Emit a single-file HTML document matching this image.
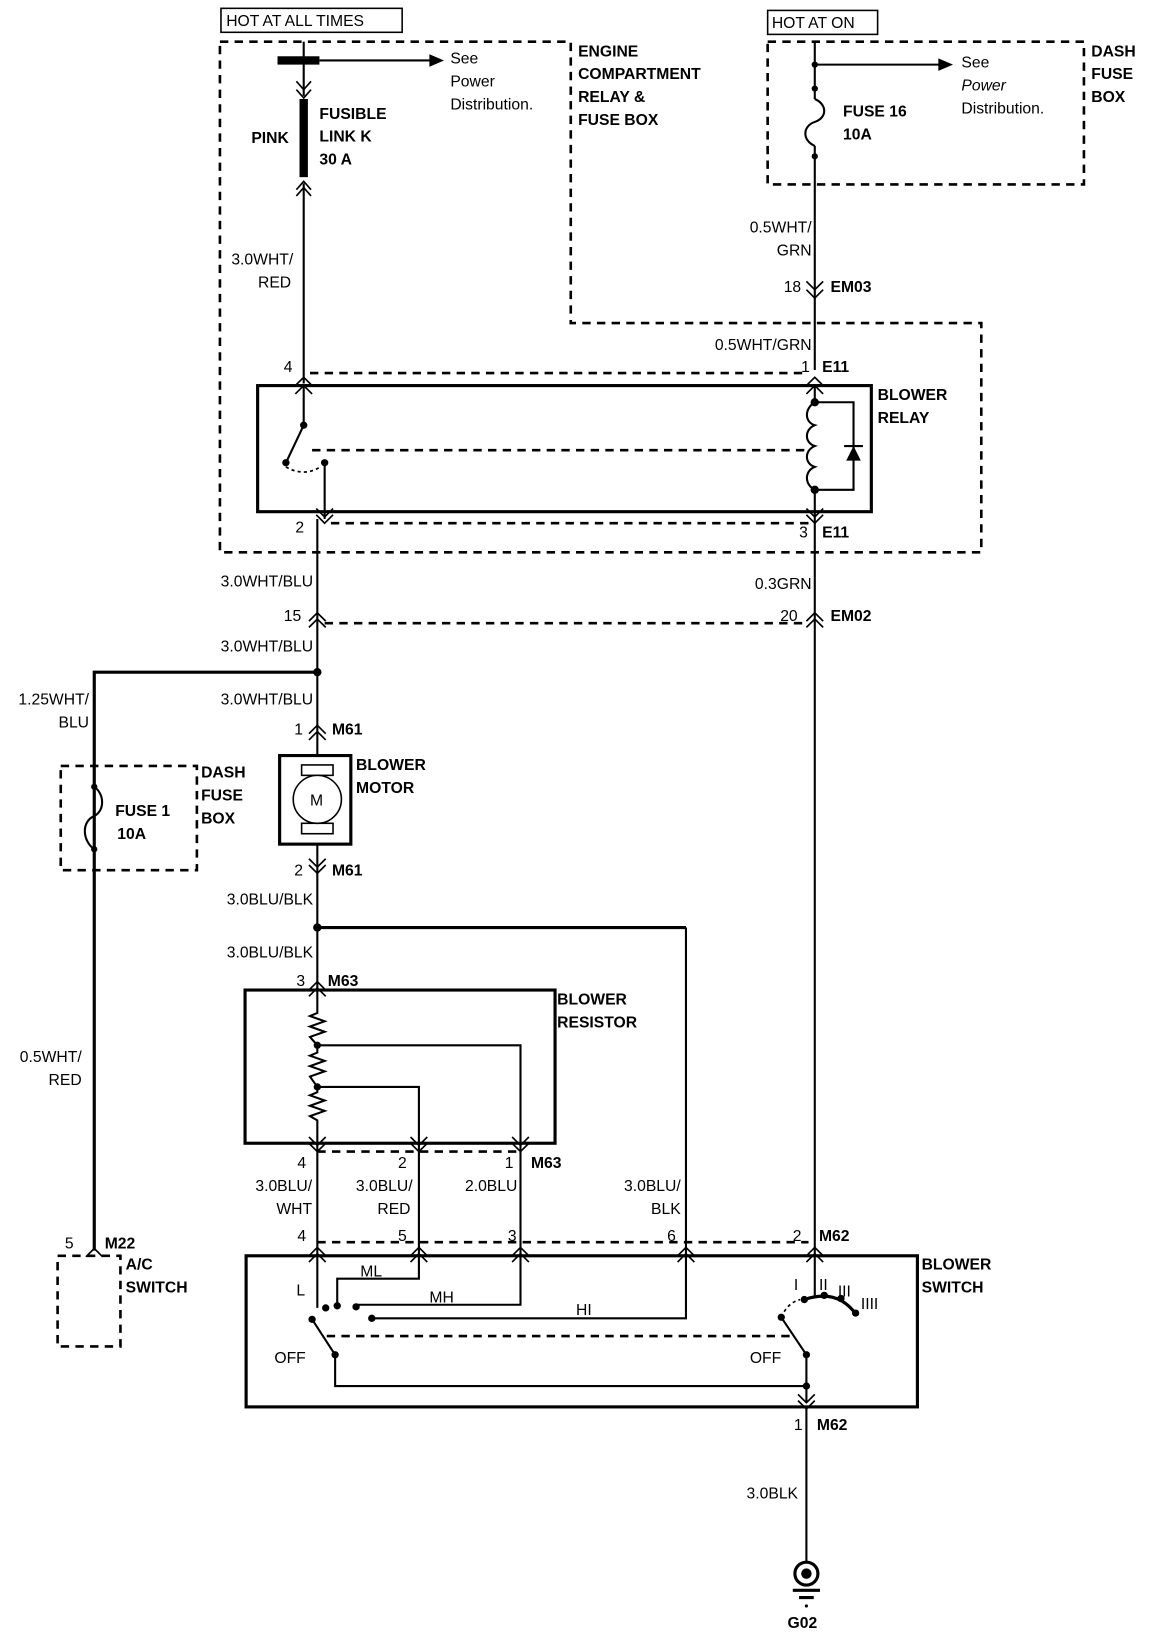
<!DOCTYPE html>
<html><head><meta charset="utf-8"><style>
html,body{margin:0;padding:0;background:#fff}
svg{display:block}
text{font-family:"Liberation Sans",Arial,sans-serif;font-size:15px;fill:#000}
.b{font-weight:bold}
.w{stroke:#000;stroke-width:2;fill:none}
.t{stroke:#000;stroke-width:3;fill:none}
.d{stroke:#000;stroke-width:2.5;fill:none;stroke-dasharray:8 6}
.c{stroke:#000;stroke-width:1.6;fill:none}
</style></head><body>
<svg width="1152" height="1632" viewBox="0 0 1100 1566" preserveAspectRatio="none" xmlns="http://www.w3.org/2000/svg">
<rect x="211" y="8" width="173" height="23" fill="none" stroke="#000" stroke-width="1.5"/>
<text x="216" y="25">HOT AT ALL TIMES</text>
<path class="d" d="M210 40 H545 V310 H937 V530 H210 Z"/>
<text class="b" x="552" y="54">ENGINE</text>
<text class="b" x="552" y="76">COMPARTMENT</text>
<text class="b" x="552" y="98">RELAY &amp;</text>
<text class="b" x="552" y="120">FUSE BOX</text>
<path class="w" d="M290 40 V92"/>
<rect x="265" y="54" width="40" height="8" fill="#000"/>
<path class="w" d="M305 58 H412"/>
<path d="M410 52 L424 58 L410 64 Z" fill="#000"/>
<text x="430" y="61">See</text>
<text x="430" y="83">Power</text>
<text x="430" y="105">Distribution.</text>
<path class="c" d="M283 78 L290 86 L297 78 M283 86 L290 94 L297 86"/>
<rect x="286" y="95" width="8" height="75" fill="#000"/>
<text class="b" x="240" y="137">PINK</text>
<text class="b" x="305" y="114">FUSIBLE</text>
<text class="b" x="305" y="136">LINK K</text>
<text class="b" x="305" y="158">30 A</text>
<path class="c" d="M283 182 L290 174 L297 182 M283 188 L290 180 L297 188"/>
<path class="w" d="M290 176 V368"/>
<text text-anchor="end" x="280" y="254">3.0WHT/</text>
<text text-anchor="end" x="278" y="276">RED</text>
<rect x="733" y="10" width="105" height="23" fill="none" stroke="#000" stroke-width="1.5"/>
<text x="737" y="27">HOT AT ON</text>
<path class="d" d="M733 40 H1035 V177 H733 Z"/>
<text class="b" x="1042" y="54">DASH</text>
<text class="b" x="1042" y="76">FUSE</text>
<text class="b" x="1042" y="98">BOX</text>
<path class="w" d="M778 40 V95 M778 140 V355"/>
<circle cx="778" cy="62" r="3" fill="#000"/>
<circle cx="778" cy="85" r="3" fill="#000"/>
<circle cx="778" cy="150" r="3" fill="#000"/>
<path class="w" d="M778 95 C790 100 790 113 778 117 C766 121 766 135 778 140"/>
<path class="w" d="M778 62 H898"/>
<path d="M896 56 L910 62 L896 68 Z" fill="#000"/>
<text x="918" y="65">See</text>
<text x="918" y="87" font-style="italic">Power</text>
<text x="918" y="109">Distribution.</text>
<text class="b" x="805" y="112">FUSE 16</text>
<text class="b" x="805" y="134">10A</text>
<text text-anchor="end" x="775" y="223">0.5WHT/</text>
<text text-anchor="end" x="775" y="245">GRN</text>
<text text-anchor="end" x="765" y="280">18</text>
<path class="c" d="M770 270 L778 278 L786 270 M770 278 L778 286 L786 278"/>
<text class="b" x="793" y="280">EM03</text>
<text text-anchor="end" x="775" y="336">0.5WHT/GRN</text>
<text x="765" y="357">1</text>
<text class="b" x="785" y="357">E11</text>
<text x="271" y="357">4</text>
<path class="d" d="M296 358 H772" stroke-width="1.8"/>
<rect x="246" y="370" width="586" height="121" fill="none" stroke="#000" stroke-width="3"/>
<path class="c" d="M282 370 L290 362 L298 370 M282 378 L290 370 L298 378"/>
<path class="c" d="M770 370 L778 362 L786 370 M770 378 L778 370 L786 378"/>
<path class="w" d="M290 370 V408 L274 442"/>
<circle cx="290" cy="408" r="3.5" fill="#000"/>
<circle cx="273" cy="444" r="3.5" fill="#000"/>
<circle cx="310" cy="444" r="3.5" fill="#000"/>
<path class="c" d="M273 448 Q290 458 306 448" stroke-dasharray="3 3"/>
<path class="d" d="M298 432 H770" stroke-width="1.8"/>
<path class="w" d="M310 444 V498"/>
<path class="w" d="M778 370 V386 M778 470 V498"/>
<circle cx="778" cy="386" r="4" fill="#000"/>
<circle cx="778" cy="470" r="4" fill="#000"/>
<path class="w" d="M778 386 C768 392 768 405 778 408 C768 412 768 425 778 428 C768 432 768 445 778 448 C768 452 768 465 778 470"/>
<path class="w" d="M778 386 H815 V470 H778"/>
<path d="M808 442 L822 442 L815 428 Z" fill="#000"/>
<path class="w" d="M806 428 H824"/>
<text class="b" x="838" y="384">BLOWER</text>
<text class="b" x="838" y="406">RELAY</text>
<path class="c" d="M302 494 L310 502 L318 494 M302 488 L310 496 L318 488"/>
<path class="c" d="M770 494 L778 502 L786 494 M770 488 L778 496 L786 488"/>
<text x="282" y="511">2</text>
<path class="d" d="M316 502 H772" stroke-width="1.8"/>
<text x="763" y="516">3</text>
<text class="b" x="785" y="516">E11</text>
<path class="w" d="M303 498 V725 M303 810 V950"/>
<path class="w" d="M778 498 V1205"/>
<text text-anchor="end" x="299" y="563">3.0WHT/BLU</text>
<text text-anchor="end" x="775" y="565">0.3GRN</text>
<text x="271" y="596">15</text>
<path class="c" d="M295 596 L303 588 L311 596 M295 602 L303 594 L311 602"/>
<path class="d" d="M310 598 H772" stroke-width="1.8"/>
<text x="745" y="596">20</text>
<path class="c" d="M770 596 L778 588 L786 596 M770 602 L778 594 L786 602"/>
<text class="b" x="793" y="596">EM02</text>
<text text-anchor="end" x="299" y="625">3.0WHT/BLU</text>
<circle cx="303" cy="645" r="4" fill="#000"/>
<path class="t" d="M303 645 H90 V1200"/>
<path class="w" d="M90 645 V755"/>
<text text-anchor="end" x="299" y="676">3.0WHT/BLU</text>
<text text-anchor="end" x="85" y="676">1.25WHT/</text>
<text text-anchor="end" x="85" y="698">BLU</text>
<text x="281" y="705">1</text>
<path class="c" d="M295 704 L303 696 L311 704 M295 710 L303 702 L311 710"/>
<text class="b" x="317" y="705">M61</text>
<rect x="267" y="725" width="68" height="85" fill="none" stroke="#000" stroke-width="3"/>
<rect x="288" y="734" width="30" height="10" fill="none" stroke="#000" stroke-width="1.5"/>
<rect x="288" y="790" width="30" height="10" fill="none" stroke="#000" stroke-width="1.5"/>
<circle cx="303" cy="767" r="23" fill="#fff" stroke="#000" stroke-width="1.5"/>
<text x="296" y="773" font-size="13">M</text>
<text class="b" x="340" y="739">BLOWER</text>
<text class="b" x="340" y="761">MOTOR</text>
<text x="281" y="840">2</text>
<path class="c" d="M295 824 L303 832 L311 824 M295 830 L303 838 L311 830"/>
<text class="b" x="317" y="840">M61</text>
<text text-anchor="end" x="299" y="868">3.0BLU/BLK</text>
<circle cx="303" cy="890" r="4" fill="#000"/>
<path class="t" d="M303 890 H655"/>
<path class="w" d="M655 890 V1205"/>
<text text-anchor="end" x="299" y="919">3.0BLU/BLK</text>
<text x="283" y="946">3</text>
<path class="c" d="M295 950 L303 942 L311 950 M295 956 L303 948 L311 956"/>
<text class="b" x="313" y="946">M63</text>
<path class="d" d="M58 735 H188 V835 H58 Z"/>
<circle cx="90" cy="755" r="3" fill="#000"/>
<circle cx="90" cy="815" r="3" fill="#000"/>
<path class="w" d="M90 755 C100 762 100 778 90 783 C78 788 78 806 90 815"/>
<text class="b" x="110" y="783">FUSE 1</text>
<text class="b" x="112" y="805">10A</text>
<text class="b" x="192" y="746">DASH</text>
<text class="b" x="192" y="768">FUSE</text>
<text class="b" x="192" y="790">BOX</text>
<text text-anchor="end" x="78" y="1019">0.5WHT/</text>
<text text-anchor="end" x="78" y="1041">RED</text>
<rect x="234" y="950" width="296" height="147" fill="none" stroke="#000" stroke-width="3"/>
<text class="b" x="532" y="964">BLOWER</text>
<text class="b" x="532" y="986">RESISTOR</text>
<path class="w" d="M303 950 V972 L296 975 L310 980 L296 985 L310 990 L296 995 L303 1003 V1010 L296 1013 L310 1018 L296 1023 L310 1028 L296 1033 L303 1043 V1048 L296 1051 L310 1056 L296 1061 L310 1066 L296 1071 L303 1075 V1105"/>
<circle cx="303" cy="1003" r="3.5" fill="#000"/>
<circle cx="303" cy="1043" r="3.5" fill="#000"/>
<path class="w" d="M303 1003 H497 V1105 M303 1043 H400 V1105"/>
<path class="c" d="M295 1091 L303 1099 L311 1091 M295 1097 L303 1105 L311 1097"/>
<path class="c" d="M392 1091 L400 1099 L408 1091 M392 1097 L400 1105 L408 1097"/>
<path class="c" d="M489 1091 L497 1099 L505 1091 M489 1097 L497 1105 L505 1097"/>
<path class="d" d="M303 1105 H497" stroke-width="1.8"/>
<path class="w" d="M303 1105 V1205 M400 1105 V1205 M497 1105 V1205"/>
<text x="284" y="1121">4</text>
<text x="380" y="1121">2</text>
<text x="482" y="1121">1</text>
<text class="b" x="507" y="1121">M63</text>
<text text-anchor="end" x="298" y="1143">3.0BLU/</text>
<text text-anchor="end" x="298" y="1165">WHT</text>
<text text-anchor="end" x="394" y="1143">3.0BLU/</text>
<text text-anchor="end" x="392" y="1165">RED</text>
<text text-anchor="end" x="494" y="1143">2.0BLU</text>
<text text-anchor="end" x="650" y="1143">3.0BLU/</text>
<text text-anchor="end" x="650" y="1165">BLK</text>
<text x="284" y="1191">4</text>
<text x="380" y="1191">5</text>
<text x="485" y="1191">3</text>
<text x="637" y="1191">6</text>
<text x="757" y="1191">2</text>
<text class="b" x="782" y="1191">M62</text>
<path class="d" d="M303 1192 H772" stroke-width="1.8"/>
<rect x="235" y="1205" width="641" height="145" fill="none" stroke="#000" stroke-width="3"/>
<text class="b" x="880" y="1218">BLOWER</text>
<text class="b" x="880" y="1240">SWITCH</text>
<path class="c" d="M295 1205 L303 1197 L311 1205 M295 1211 L303 1203 L311 1211"/>
<path class="c" d="M392 1205 L400 1197 L408 1205 M392 1211 L400 1203 L408 1211"/>
<path class="c" d="M489 1205 L497 1197 L505 1205 M489 1211 L497 1203 L505 1211"/>
<path class="c" d="M647 1205 L655 1197 L663 1205 M647 1211 L655 1203 L663 1211"/>
<path class="c" d="M770 1205 L778 1197 L786 1205 M770 1211 L778 1203 L786 1211"/>
<path class="w" d="M303 1205 V1255 M400 1205 V1227 H322 V1253 M497 1205 V1252 H340 M655 1205 V1265 H355"/>
<text x="283" y="1243">L</text>
<text x="344" y="1225">ML</text>
<text x="410" y="1250">MH</text>
<text x="550" y="1262">HI</text>
<circle cx="311" cy="1255" r="3.5" fill="#000"/>
<circle cx="322" cy="1253" r="3.5" fill="#000"/>
<circle cx="340" cy="1254" r="3.5" fill="#000"/>
<circle cx="355" cy="1265" r="3.5" fill="#000"/>
<circle cx="298" cy="1266" r="3.5" fill="#000"/>
<path class="w" d="M298 1266 L320 1300 V1330 H770"/>
<circle cx="320" cy="1300" r="3.5" fill="#000"/>
<text x="262" y="1308">OFF</text>
<path class="d" d="M312 1282 H760" stroke-width="1.8"/>
<path class="w" d="M778 1205 V1245"/>
<text x="758" y="1238" font-size="13">I</text>
<text x="782" y="1238" font-size="12">II</text>
<text x="800" y="1244" font-size="12">III</text>
<text x="822" y="1256" font-size="11">IIII</text>
<path class="t" d="M768 1247 Q800 1236 818 1262"/>
<circle cx="768" cy="1247" r="3.5" fill="#000"/>
<circle cx="787" cy="1243" r="3.5" fill="#000"/>
<circle cx="803" cy="1246" r="3.5" fill="#000"/>
<circle cx="817" cy="1260" r="3.5" fill="#000"/>
<circle cx="746" cy="1264" r="3.5" fill="#000"/>
<path class="c" d="M746 1264 Q752 1250 764 1247" stroke-dasharray="3 3"/>
<path class="w" d="M746 1264 L770 1300 V1345"/>
<circle cx="770" cy="1300" r="3.5" fill="#000"/>
<circle cx="770" cy="1330" r="3.5" fill="#000"/>
<text x="716" y="1308">OFF</text>
<path class="c" d="M762 1338 L770 1346 L778 1338 M762 1344 L770 1352 L778 1344"/>
<text x="758" y="1372">1</text>
<text class="b" x="780" y="1372">M62</text>
<path class="w" d="M770 1350 V1498"/>
<text text-anchor="end" x="762" y="1438">3.0BLK</text>
<circle cx="770" cy="1510" r="11" fill="none" stroke="#000" stroke-width="3"/>
<circle cx="770" cy="1510" r="5" fill="#000"/>
<path class="t" d="M757 1526 H783 M763 1533 H777"/>
<circle cx="770" cy="1541" r="1.5" fill="#000"/>
<text class="b" x="752" y="1562">G02</text>
<text x="62" y="1198">5</text>
<path class="c" d="M82 1206 L90 1198 L98 1206"/>
<text class="b" x="100" y="1198">M22</text>
<path class="d" d="M55 1205 H115 V1292 H55 Z"/>
<text class="b" x="120" y="1218">A/C</text>
<text class="b" x="120" y="1240">SWITCH</text>
</svg>
</body></html>
